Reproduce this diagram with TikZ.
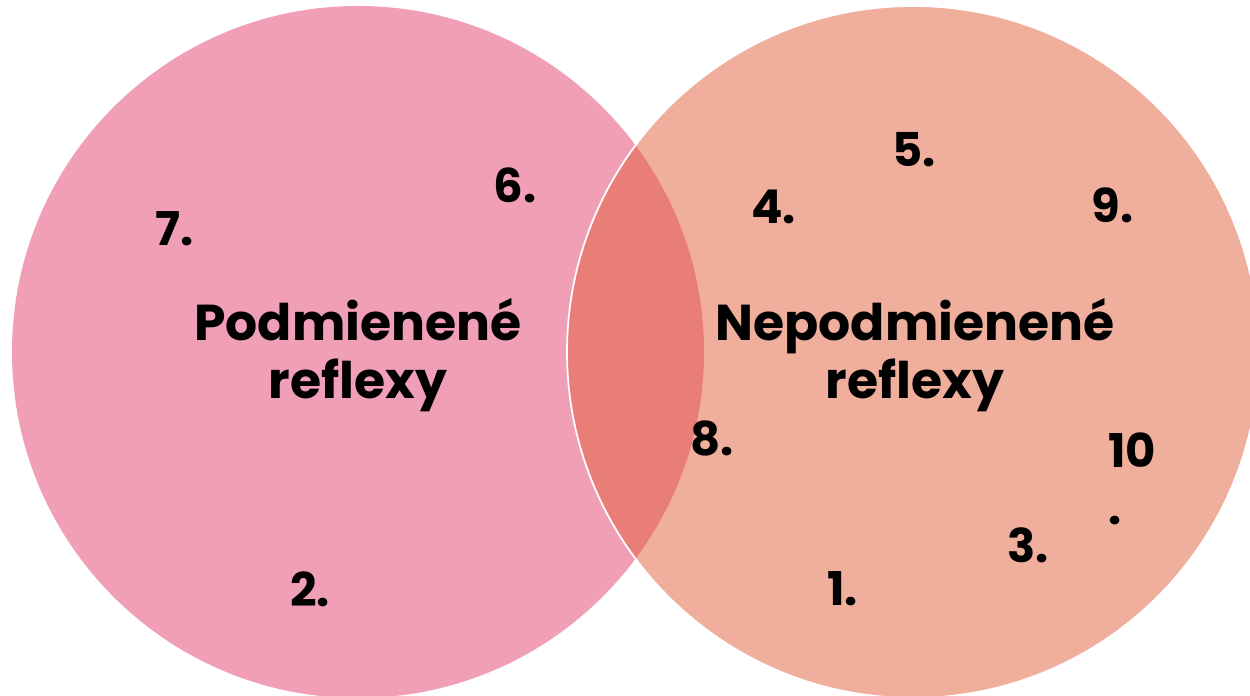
\documentclass[tikz,border=0pt]{standalone}
\usepackage{fontspec}
\setmainfont{Poppins}[BoldFont={* Bold}]
\definecolor{leftpink}{HTML}{F09FB6}
\definecolor{rightsalmon}{HTML}{F0AF9C}
\definecolor{overlapred}{HTML}{E97E78}
\begin{document}
\begin{tikzpicture}[
    setlabel/.style={align=center, font=\bfseries\fontsize{28.7}{33}\selectfont},
    itemlabel/.style={anchor=base west, inner sep=0pt, font=\bfseries\fontsize{26.5}{32.5}\selectfont}]
\useasboundingbox (0,0) rectangle (25,13.92);
\clip (0,0) rectangle (25,13.92);
\fill[leftpink] (7.16,6.88) circle (6.92);
\fill[rightsalmon] (18.26,6.88) circle (6.92);
\begin{scope}
\clip (7.16,6.88) circle (6.92);
\fill[overlapred] (18.26,6.88) circle (6.92);
\end{scope}
\draw[white, line width=1pt] (18.26,6.88) circle (6.92);
\node[setlabel] (cond) at (7.16, 6.81) {Podmienené\\reflexy};
\node[setlabel] (uncond) at (18.30, 6.81) {Nepodmienené\\reflexy};
\node[itemlabel] (n7) at (3.10, 9.00) {7.};
\node[itemlabel] (n6) at (9.86, 9.86) {6.};
\node[itemlabel] (n2) at (5.80, 1.78) {2.};
\node[itemlabel] (n5) at (17.84, 10.58) {5.};
\node[itemlabel] (n4) at (15.02, 9.44) {4.};
\node[itemlabel] (n9) at (21.82, 9.46) {9.};
\node[itemlabel] (n8) at (13.80, 4.80) {8.};
\node[itemlabel] (n1) at (16.54, 1.80) {1.};
\node[itemlabel] (n3) at (20.14, 2.66) {3.};
\node[itemlabel, align=left] (n10) at (22.16, 3.42) {10\\.};
\end{tikzpicture}
\end{document}
